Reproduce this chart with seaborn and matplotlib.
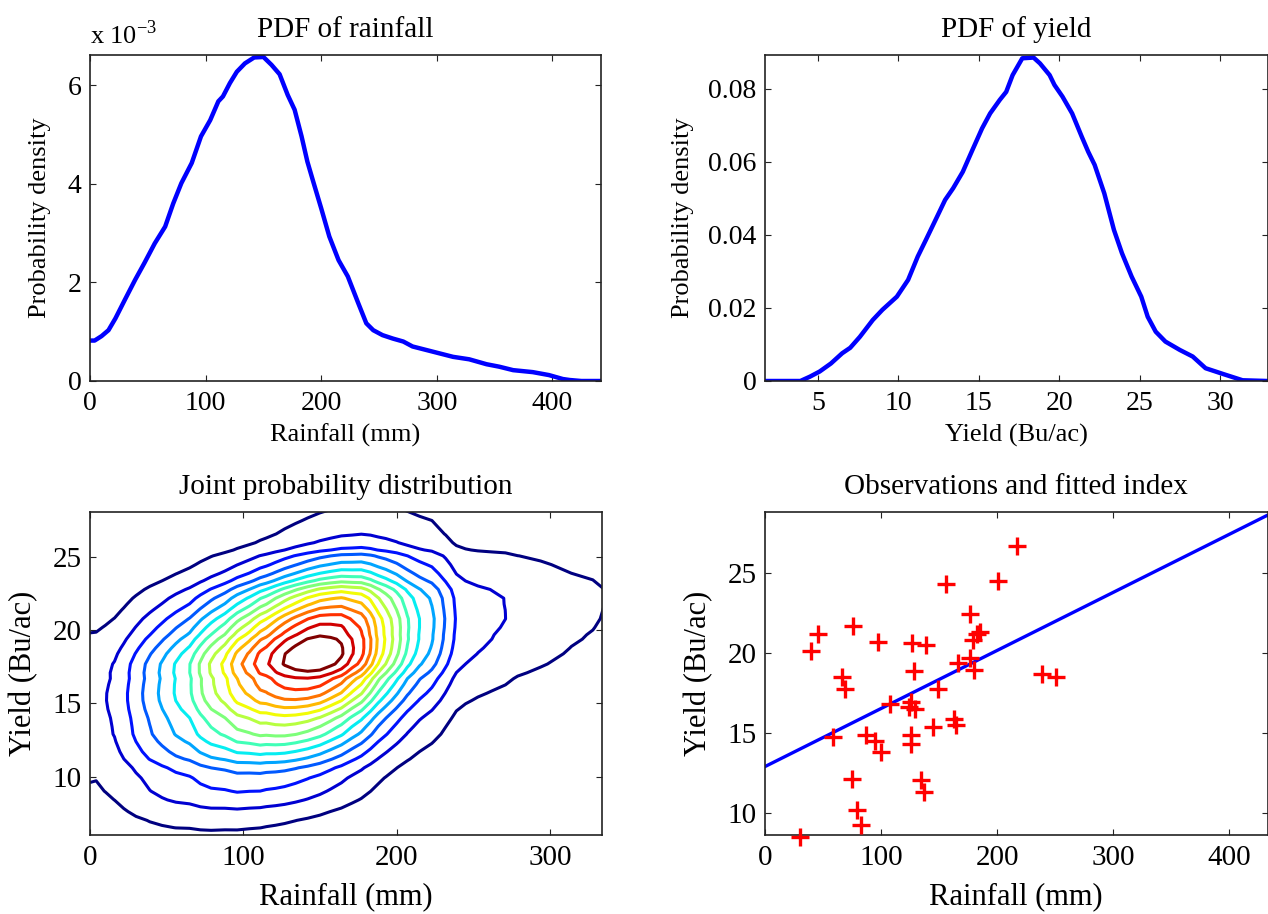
import numpy as np
import pandas as pd
import matplotlib
matplotlib.use("Agg")
import matplotlib.pyplot as plt
import seaborn as sns
from statistics import NormalDist

# ---------------- data ----------------
rain_x = [0, 4, 10, 16, 22, 30, 39, 47, 56, 65, 72, 79, 88, 96, 104, 111, 115, 121,
          127, 134, 142, 150, 157, 164, 171, 177, 183, 188, 193, 200, 207, 215, 223,
          232, 239, 245, 253, 262, 271, 279, 294, 314, 328, 343, 354, 366, 383, 397,
          409, 415, 425, 442]
rain_pdf_e3 = [0.82, 0.82, 0.91, 1.03, 1.27, 1.64, 2.05, 2.39, 2.79, 3.13, 3.60, 4.01,
               4.42, 4.96, 5.29, 5.67, 5.77, 6.04, 6.27, 6.44, 6.56, 6.57, 6.41, 6.22,
               5.80, 5.50, 4.96, 4.45, 4.05, 3.50, 2.93, 2.45, 2.12, 1.58, 1.17, 1.03,
               0.93, 0.86, 0.80, 0.70, 0.61, 0.49, 0.44, 0.34, 0.29, 0.22, 0.18, 0.12,
               0.04, 0.02, 0.0, 0.0]

yield_x = [1.7, 3.9, 4.5, 5.1, 5.8, 6.5, 7.0, 7.6, 8.4, 9.0, 9.9, 10.6, 11.2, 11.7,
           12.4, 12.9, 13.4, 14.0, 14.6, 15.2, 15.7, 16.3, 16.7, 17.1, 17.7, 18.4,
           18.8, 19.4, 19.7, 20.2, 20.8, 21.4, 21.8, 22.2, 22.8, 23.4, 23.9, 24.5,
           25.1, 25.5, 26.0, 26.6, 27.5, 28.3, 29.1, 30.2, 31.4, 32.95]
yield_pdf = [0, 0, 0.0012, 0.0026, 0.0048, 0.0076, 0.0091, 0.0121, 0.0167, 0.0195,
             0.0231, 0.0277, 0.0341, 0.0386, 0.0450, 0.0496, 0.0528, 0.0573, 0.0633,
             0.0692, 0.0733, 0.0770, 0.0792, 0.0838, 0.0884, 0.0886, 0.0870, 0.0838,
             0.0811, 0.0779, 0.0733, 0.0669, 0.0628, 0.0592, 0.0514, 0.0414, 0.0350,
             0.0286, 0.0231, 0.0176, 0.0135, 0.0108, 0.0085, 0.0067, 0.0035, 0.0019,
             0.0002, 0]

obs_rain = [30, 40, 46, 76, 97, 127, 138.5, 156, 201, 217, 177, 185, 182.5, 179, 177,
            180, 166, 128, 66, 69, 149, 108, 126, 124, 129, 163, 165, 144.5, 59, 87,
            95, 100, 126, 126, 75, 134, 137, 79, 83, 238.5, 251]
obs_yield = [8.5, 20.1, 21.2, 21.65, 20.7, 20.6, 20.5, 24.3, 24.5, 26.7, 22.4, 21.3,
             21.2, 20.8, 19.7, 18.9, 19.35, 18.85, 18.5, 17.7, 17.7, 16.8, 16.9, 16.6,
             16.5, 15.85, 15.5, 15.35, 14.7, 14.85, 14.5, 13.8, 14.85, 14.3, 12.13,
             12.04, 11.3, 10.17, 9.25, 18.7, 18.45]

fit_x = [0, 433]
fit_y = [12.88, 28.6]

# joint distribution: Gaussian copula joining the two marginals above
RHO = 0.40
RAIN_CDF_AT_ZERO = 0.06
N_LEVELS = 15

# ---------------- joint density from marginals ----------------
def cdf_from_pdf(x, p, f0=0.0):
    x = np.asarray(x, float); p = np.asarray(p, float)
    cum = np.concatenate([[0.0], np.cumsum(np.diff(x) * (p[1:] + p[:-1]) / 2)])
    cum = cum / cum[-1]
    return f0 + (1 - f0) * cum

nd = NormalDist()
ur = np.clip(cdf_from_pdf(rain_x, rain_pdf_e3, RAIN_CDF_AT_ZERO), 1e-4, 1 - 1e-4)
uy = np.clip(cdf_from_pdf(yield_x, yield_pdf), 1e-4, 1 - 1e-4)
a = np.array([nd.inv_cdf(u) for u in ur])
b = np.array([nd.inv_cdf(u) for u in uy])
A, B = np.meshgrid(a, b)
cop = np.exp(-(RHO**2 * (A**2 + B**2) - 2 * RHO * A * B) / (2 * (1 - RHO**2))) / np.sqrt(1 - RHO**2)
Z = cop * (np.asarray(rain_pdf_e3) * 1e-3)[None, :] * np.asarray(yield_pdf)[:, None]

# ---------------- style ----------------
sns.set_style("white")
plt.rcParams.update({
    "font.family": ["Liberation Serif", "DejaVu Serif"],
    "mathtext.fontset": "custom",
    "mathtext.rm": "Liberation Serif",
    "text.color": "black", "axes.labelcolor": "black",
    "xtick.direction": "in", "ytick.direction": "in",
    "xtick.top": True, "ytick.right": True,
    "xtick.bottom": True, "ytick.left": True,
    "xtick.major.size": 4, "ytick.major.size": 4,
    "xtick.major.width": 0.8, "ytick.major.width": 0.8,
    "xtick.major.pad": 7, "ytick.major.pad": 6,
    "axes.edgecolor": "#222222", "axes.linewidth": 1.2,
    "xtick.color": "#222222", "ytick.color": "#222222",
    "xtick.labelsize": 20, "ytick.labelsize": 20,
})

W, H = 1268, 914
fig = plt.figure(figsize=(W / 100, H / 100), dpi=100)

def add_ax(l, r, t, b):
    return fig.add_axes([l / W, 1 - b / H, (r - l) / W, (b - t) / H])

ax1 = add_ax(90, 601, 55, 381)
ax2 = add_ax(765, 1267.5, 55, 381)
ax3 = add_ax(90, 602, 512, 835)
ax4 = add_ax(765, 1267.5, 512, 835)

for ax in (ax1, ax2, ax3, ax4):
    for s in ax.spines.values():
        s.set_visible(True)
        s.set_color("#222222")
    ax.tick_params(colors="#222222", labelcolor="black")
for ax in (ax3, ax4):
    ax.tick_params(labelsize=21)

# --- PDF of rainfall
df_r = pd.DataFrame({"x": rain_x, "y": rain_pdf_e3})
sns.lineplot(data=df_r, x="x", y="y", ax=ax1, color="#0000ff", linewidth=3.2)
ax1.set_xlim(0, 442)
ax1.set_ylim(0, 6.61)
ax1.set_xticks([0, 100, 200, 300, 400])
ax1.set_yticks([0, 2, 4, 6])
ax1.set_title("PDF of rainfall", fontsize=21, pad=13)
ax1.set_xlabel("Rainfall (mm)", fontsize=19, labelpad=6)
ax1.set_ylabel("Probability density", fontsize=19, labelpad=12)
ax1.text(0.0, 1.02, r"x 10$^{\mathregular{-3}}$", transform=ax1.transAxes,
         fontsize=19, ha="left", va="bottom")

# --- PDF of yield
df_y = pd.DataFrame({"x": yield_x, "y": yield_pdf})
sns.lineplot(data=df_y, x="x", y="y", ax=ax2, color="#0000ff", linewidth=3.2)
ax2.set_xlim(1.7, 32.95)
ax2.set_ylim(0, 0.0893)
ax2.set_xticks([5, 10, 15, 20, 25, 30])
ax2.set_yticks([0, 0.02, 0.04, 0.06, 0.08])
ax2.set_yticklabels(["0", "0.02", "0.04", "0.06", "0.08"])
ax2.set_title("PDF of yield", fontsize=21, pad=13)
ax2.set_xlabel("Yield (Bu/ac)", fontsize=19, labelpad=6)
ax2.set_ylabel("Probability density", fontsize=19, labelpad=10)

# --- Joint probability distribution
zmax = Z.max()
levels = np.linspace(0, zmax, N_LEVELS + 2)[1:-1]
colors = plt.cm.jet(np.linspace(0, 1, N_LEVELS))
ax3.contour(np.asarray(rain_x, float), np.asarray(yield_x, float), Z,
            levels=levels, colors=colors, linewidths=2.2)
ax3.set_xlim(0, 334)
ax3.set_ylim(6, 28.1)
ax3.set_xticks([0, 100, 200, 300])
ax3.set_yticks([10, 15, 20, 25])
ax3.set_title("Joint probability distribution", fontsize=21, pad=13)
ax3.set_xlabel("Rainfall (mm)", fontsize=22, labelpad=8)
ax3.set_ylabel("Yield (Bu/ac)", fontsize=22, labelpad=10)

# --- Observations and fitted index
df_o = pd.DataFrame({"rain": obs_rain, "yield": obs_yield})
df_f = pd.DataFrame({"rain": fit_x, "yield": fit_y})
sns.lineplot(data=df_f, x="rain", y="yield", ax=ax4, color="#0000ff", linewidth=2.4)
sns.scatterplot(data=df_o, x="rain", y="yield", ax=ax4, marker="+", color="red",
                s=150, linewidth=2.4, zorder=3, clip_on=False)
ax4.set_xlim(0, 433)
ax4.set_ylim(8.6, 28.8)
ax4.set_xticks([0, 100, 200, 300, 400])
ax4.set_yticks([10, 15, 20, 25])
ax4.set_title("Observations and fitted index", fontsize=21, pad=13)
ax4.set_xlabel("Rainfall (mm)", fontsize=22, labelpad=8)
ax4.set_ylabel("Yield (Bu/ac)", fontsize=22, labelpad=10)

fig.savefig("out.png", dpi=100)
